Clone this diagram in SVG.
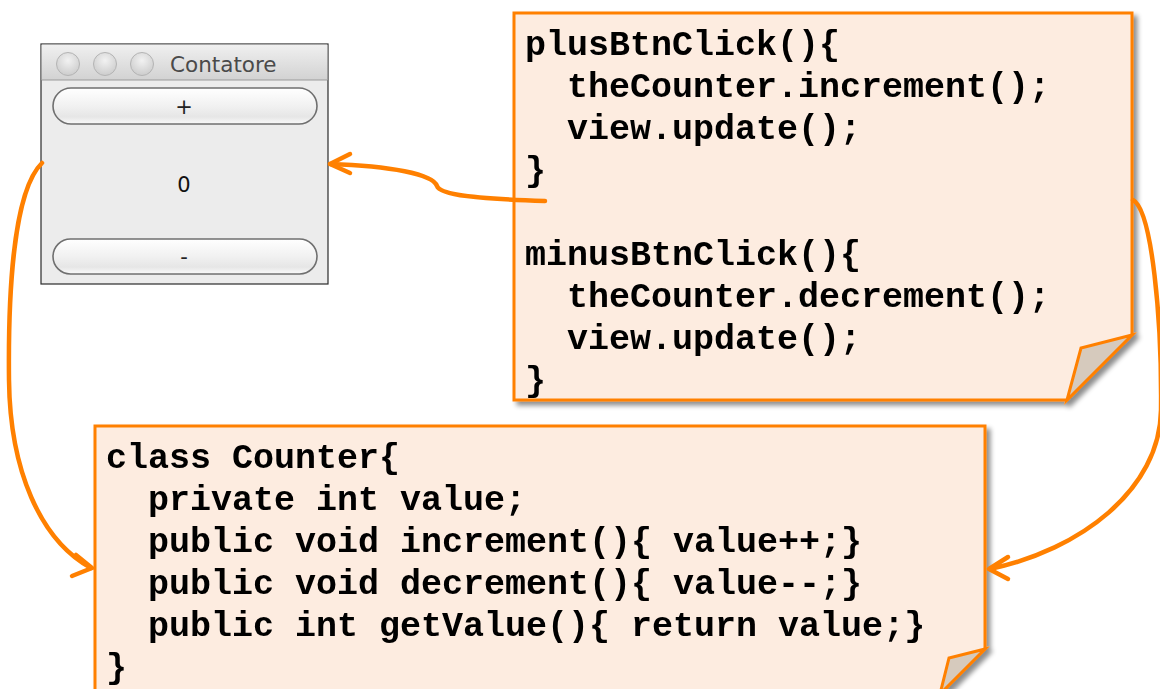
<svg xmlns="http://www.w3.org/2000/svg" width="1160" height="689" viewBox="0 0 1160 689">
  <defs>
    <filter id="shadow" x="-5%" y="-5%" width="115%" height="115%">
      <feGaussianBlur in="SourceAlpha" stdDeviation="2.5"/>
      <feOffset dx="4" dy="4" result="b"/>
      <feComponentTransfer><feFuncA type="linear" slope="0.45"/></feComponentTransfer>
      <feMerge><feMergeNode/><feMergeNode in="SourceGraphic"/></feMerge>
    </filter>
    <linearGradient id="titleGrad" x1="0" y1="0" x2="0" y2="1">
      <stop offset="0" stop-color="#f0f0f0"/>
      <stop offset="1" stop-color="#d2d2d2"/>
    </linearGradient>
    <linearGradient id="btnGrad" x1="0" y1="0" x2="0" y2="1">
      <stop offset="0" stop-color="#ffffff"/>
      <stop offset="0.5" stop-color="#f1f1f1"/>
      <stop offset="0.8" stop-color="#e6e6e6"/>
      <stop offset="1" stop-color="#fafafa"/>
    </linearGradient>
    <radialGradient id="dotGrad" cx="0.5" cy="0.35" r="0.6">
      <stop offset="0" stop-color="#f2f2f2"/>
      <stop offset="1" stop-color="#cfcfcf"/>
    </radialGradient>
  </defs>
  <style>
    .note { fill: #fdece0; stroke: #ff8000; stroke-width: 3; stroke-linejoin: miter; }
    .fold { fill: #d6cabd; stroke: #ff8000; stroke-width: 3; stroke-linejoin: miter; }
    .code { font-family: "Liberation Mono", "Courier New", monospace; font-weight: bold; font-size: 35px; fill: #000; white-space: pre; }
    .wire { fill: none; stroke: #ff8000; stroke-width: 4.5; stroke-linecap: round; stroke-linejoin: round; }
    .ui { font-family: "DejaVu Sans", "Lucida Grande", sans-serif; }
    .btn { fill: url(#btnGrad); stroke: #6f6f6f; stroke-width: 1.6; }
    .dot { fill: url(#dotGrad); stroke: #b4b4b4; stroke-width: 1; }
  </style>

  <rect width="1160" height="689" fill="#ffffff"/>

  <!-- Contatore window -->
  <g id="window">
    <rect x="41" y="44" width="287" height="240" fill="#ececec" stroke="#2b2b2b" stroke-width="1.2"/>
    <rect x="41.6" y="44.6" width="285.8" height="35.4" fill="url(#titleGrad)"/>
    <line x1="41.6" y1="80" x2="327.4" y2="80" stroke="#9a9a9a" stroke-width="1"/>
    <circle class="dot" cx="68" cy="64" r="11.5"/>
    <circle class="dot" cx="105" cy="64" r="11.5"/>
    <circle class="dot" cx="142" cy="64" r="11.5"/>
    <text class="ui" x="170" y="72" font-size="21.5" fill="#4a4a4a">Contatore</text>
    <rect class="btn" x="53" y="88" width="264" height="36" rx="18"/>
    <text class="ui" x="184" y="114" font-size="21" text-anchor="middle" fill="#222">+</text>
    <text class="ui" x="184" y="192" font-size="21" text-anchor="middle" fill="#111">0</text>
    <rect class="btn" x="53" y="239" width="264" height="35" rx="17.5"/>
    <text class="ui" x="184" y="264" font-size="21" text-anchor="middle" fill="#222">-</text>
  </g>

  <!-- Event handler note -->
  <g id="handlers" filter="url(#shadow)">
    <path class="note" d="M514,13 H1132 V335 L1067,400 H514 Z"/>
    <path class="fold" d="M1132,335 L1081,348 L1067,400 Z"/>
    <text class="code" x="525" y="55">plusBtnClick(){</text>
    <text class="code" x="525" y="97">  theCounter.increment();</text>
    <text class="code" x="525" y="139">  view.update();</text>
    <text class="code" x="525" y="181">}</text>
    <text class="code" x="525" y="265">minusBtnClick(){</text>
    <text class="code" x="525" y="307">  theCounter.decrement();</text>
    <text class="code" x="525" y="349">  view.update();</text>
    <text class="code" x="525" y="391">}</text>
  </g>

  <!-- Counter class note -->
  <g id="counter" filter="url(#shadow)">
    <path class="note" d="M95,426 H985 V649 L940,694 H95 Z"/>
    <path class="fold" d="M985,649 L949,658 L940,694 Z"/>
    <text class="code" x="106" y="468">class Counter{</text>
    <text class="code" x="106" y="510">  private int value;</text>
    <text class="code" x="106" y="552">  public void increment(){ value++;}</text>
    <text class="code" x="106" y="594">  public void decrement(){ value--;}</text>
    <text class="code" x="106" y="636">  public int getValue(){ return value;}</text>
    <text class="code" x="106" y="678">}</text>
  </g>

  <!-- Connectors -->
  <g id="connectors">
    <path class="wire" d="M545,201 C478,199 440,195 437,186 C433,174 390,166 330,164"/>
    <path class="wire" d="M350,154 L330,164 L350,173"/>
    <path class="wire" d="M42,163 C14,190 8,290 9,380 C10,470 40,540 91,568"/>
    <path class="wire" d="M76,555 L92,568 L72,576"/>
    <path class="wire" d="M1133,200 C1152,210 1162,320 1161,410 C1160,490 1080,550 990,569"/>
    <path class="wire" d="M1008,557 L989,569 L1008,579"/>
  </g>
</svg>
